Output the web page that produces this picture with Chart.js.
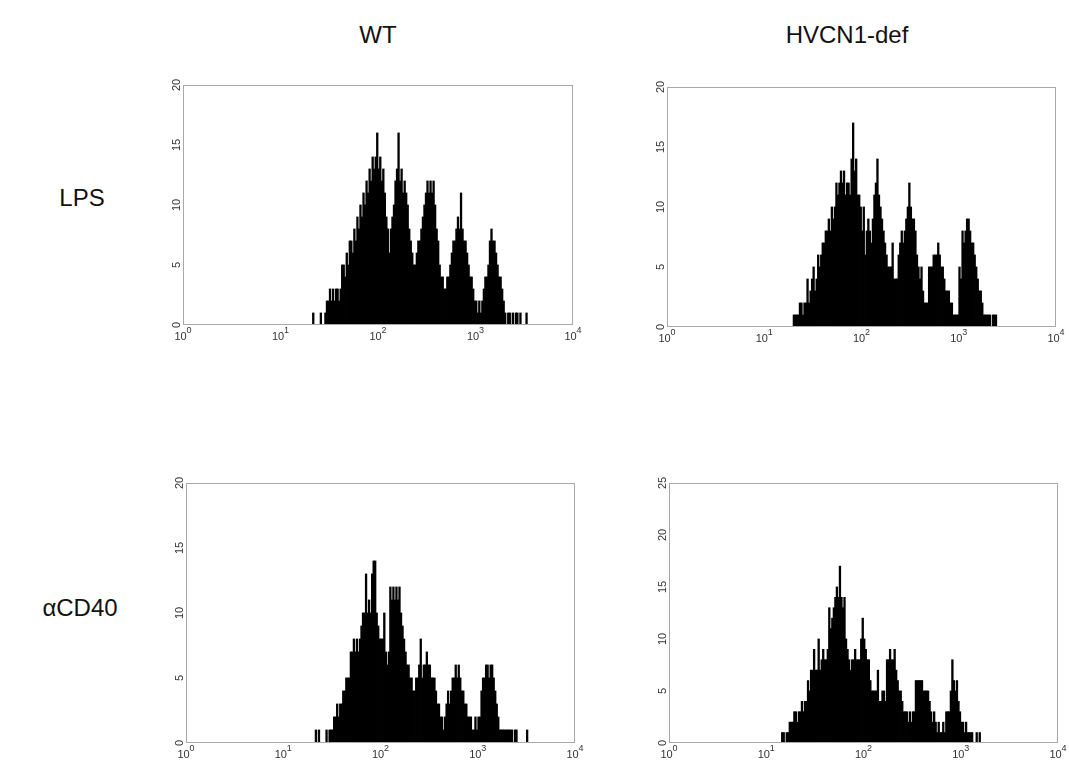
<!DOCTYPE html>
<html>
<head>
<meta charset="utf-8">
<script src="https://cdn.jsdelivr.net/npm/chart.js@4.4.1/dist/chart.umd.min.js"></script>
<style>
    body { margin: 0; background: #fff; font-family: "Liberation Sans", Arial, sans-serif; }
    .label { position: absolute; font-size: 24px; line-height: 24px; color: #111; transform: translateX(-50%); white-space: nowrap; }
    .panel { position: absolute; }
</style>
</head>
<body>
<div class="label" style="left:378px; top:23px;">WT</div>
<div class="label" style="left:847px; top:23px;">HVCN1-def</div>
<div class="label" style="left:82px; top:186px;">LPS</div>
<div class="label" style="left:80px; top:596px;">αCD40</div>

<div class="panel" id="p1"><canvas id="wtLps"></canvas></div>
<div class="panel" id="p2"><canvas id="hvLps"></canvas></div>
<div class="panel" id="p3"><canvas id="wtCd40"></canvas></div>
<div class="panel" id="p4"><canvas id="hvCd40"></canvas></div>

<script>
// Histogram counts per channel (256 channels over 4 log decades, 64 per decade)
const wtLpsStart = 85;
const wtLpsCounts = [
    1, 0, 0, 0, 0, 1, 0, 0, 1,
    2, 2, 3, 2, 3, 2, 3, 3, 2, 3,
    5, 5, 4, 6, 5, 7, 7, 6, 8, 7,
    9, 8, 10, 9, 11, 10, 12, 11, 13, 12,
    14, 13, 14, 16, 13, 14, 12, 13, 11, 9,
    8, 6, 8, 9, 10, 12, 13, 16, 12, 13,
    11, 12, 11, 10, 8, 7, 6, 5, 5, 6,
    7, 7, 8, 9, 10, 11, 12, 11, 12, 11,
    12, 10, 8, 7, 5, 4, 4, 3, 3, 4,
    4, 5, 6, 7, 7, 8, 9, 8, 11, 8,
    7, 7, 6, 5, 4, 4, 3, 2, 2, 1,
    2, 1, 2, 3, 4, 4, 5, 7, 8, 7,
    7, 6, 5, 4, 4, 3, 2, 1, 0, 1,
    1, 0, 1, 0, 1, 1, 0, 1, 0, 0,
    0, 1
];

const hvLpsStart = 83;
const hvLpsCounts = [
    1, 1, 1, 1, 2, 2, 1, 2, 2, 4,
    2, 3, 4, 5, 3, 4, 6, 5, 6, 7,
    7, 8, 8, 9, 8, 10, 9, 10, 12, 11,
    12, 13, 12, 13, 11, 12, 12, 11, 14, 17,
    13, 14, 11, 11, 10, 8, 10, 6, 8, 9,
    8, 7, 9, 11, 12, 14, 11, 10, 9, 8,
    7, 6, 5, 5, 5, 7, 4, 4, 4, 6,
    7, 8, 7, 8, 9, 10, 12, 10, 9, 9,
    8, 6, 5, 4, 5, 3, 2, 2, 2, 5,
    5, 5, 6, 6, 6, 7, 6, 5, 5, 4,
    3, 3, 3, 2, 2, 1, 1, 1, 1, 5,
    4, 8, 7, 8, 9, 9, 8, 7, 7, 6,
    5, 4, 3, 3, 2, 1, 1, 1, 1, 1,
    0, 1, 1, 1
];

const wtCd40Start = 85;
const wtCd40Counts = [
    1, 0, 1, 0, 0, 0, 0, 1, 0, 1,
    1, 1, 2, 2, 3, 2, 3, 3, 4, 4,
    5, 5, 5, 7, 7, 8, 7, 8, 7, 8,
    9, 10, 10, 13, 10, 11, 10, 13, 14, 14,
    10, 9, 8, 8, 8, 10, 7, 6, 7, 12,
    11, 12, 11, 12, 11, 12, 10, 9, 8, 7,
    6, 6, 5, 5, 4, 4, 5, 5, 6, 8,
    5, 6, 6, 7, 6, 6, 5, 5, 5, 4,
    3, 3, 2, 2, 1, 2, 3, 4, 3, 4,
    5, 5, 6, 5, 6, 5, 4, 4, 3, 3,
    2, 2, 2, 1, 1, 2, 1, 2, 2, 4,
    5, 5, 6, 6, 5, 6, 6, 5, 4, 3,
    2, 1, 1, 1, 1, 1, 1, 1, 1, 1,
    0, 1, 1, 0, 0, 0, 0, 0, 0, 1
];

const hvCd40Start = 74;
const hvCd40Counts = [
    1, 1, 0, 1, 1, 2, 2, 2, 3, 3,
    2, 3, 3, 4, 3, 4, 4, 6, 5, 7,
    7, 9, 7, 7, 10, 7, 8, 9, 8, 8,
    9, 13, 11, 12, 13, 14, 15, 14, 17, 14,
    13, 14, 10, 9, 8, 7, 8, 8, 9, 8,
    8, 8, 10, 12, 10, 9, 8, 8, 6, 5,
    5, 5, 5, 7, 4, 4, 5, 5, 4, 8,
    8, 9, 8, 8, 9, 7, 6, 5, 5, 4,
    3, 3, 3, 2, 3, 2, 3, 3, 6, 6,
    6, 6, 6, 5, 5, 5, 5, 4, 3, 2,
    3, 2, 1, 2, 1, 1, 2, 1, 3, 3,
    3, 5, 8, 6, 5, 6, 4, 3, 2, 2,
    1, 2, 1, 1, 1, 1, 0, 0, 1, 0, 1
];

// Axis ticks
const decadeExponents = ['0', '1', '2', '3', '4'];
const channelsPerDecade = 64;
const yTicks20 = [0, 5, 10, 15, 20];
const yTicks25 = [0, 5, 10, 15, 20, 25];

// Panel placement on the page (plot area box)
const panels = [
    { id: 'p1', canvas: 'wtLps', start: wtLpsStart, counts: wtLpsCounts, yTicks: yTicks20, left: 183, top: 85, width: 390, height: 240 },
    { id: 'p2', canvas: 'hvLps', start: hvLpsStart, counts: hvLpsCounts, yTicks: yTicks20, left: 667, top: 87, width: 389, height: 240 },
    { id: 'p3', canvas: 'wtCd40', start: wtCd40Start, counts: wtCd40Counts, yTicks: yTicks20, left: 186, top: 483, width: 389, height: 260 },
    { id: 'p4', canvas: 'hvCd40', start: hvCd40Start, counts: hvCd40Counts, yTicks: yTicks25, left: 669, top: 483, width: 389, height: 260 }
];

const PAD = { left: 40, top: 14, right: 20, bottom: 22 };

// one bar per channel, centred in its channel
function toPoints(start, counts) {
    return counts.map((c, i) => ({ x: start + i + 0.5, y: c }));
}

// Draws the frame, rotated y labels and 10^n x labels
const flowAxes = {
    id: 'flowAxes',
    afterDraw(chart, args, opts) {
        const ctx = chart.ctx;
        const a = chart.chartArea;
        const xs = chart.scales.x;
        const ys = chart.scales.y;
        ctx.save();
        ctx.strokeStyle = '#a9a9a9';
        ctx.lineWidth = 1;
        ctx.strokeRect(a.left + 0.5, a.top + 0.5, a.right - a.left - 1, a.bottom - a.top - 1);

        ctx.fillStyle = '#333';
        ctx.font = '11px "Liberation Sans", Arial, sans-serif';
        ctx.textAlign = 'center';
        ctx.textBaseline = 'alphabetic';
        opts.yTicks.forEach(v => {
            const y = ys.getPixelForValue(v);
            ctx.save();
            ctx.translate(a.left - 3, y);
            ctx.rotate(-Math.PI / 2);
            ctx.fillText(String(v), 0, 0);
            ctx.restore();
        });

        decadeExponents.forEach((e, i) => {
            const x = xs.getPixelForValue(i * channelsPerDecade);
            ctx.font = '11px "Liberation Sans", Arial, sans-serif';
            const w1 = ctx.measureText('10').width;
            ctx.font = '9px "Liberation Sans", Arial, sans-serif';
            const w2 = ctx.measureText(e).width;
            const x0 = x - (w1 + w2) / 2;
            ctx.textAlign = 'left';
            ctx.font = '11px "Liberation Sans", Arial, sans-serif';
            ctx.fillText('10', x0, a.bottom + 15);
            ctx.font = '9px "Liberation Sans", Arial, sans-serif';
            ctx.fillText(e, x0 + w1, a.bottom + 8);
        });
        ctx.restore();
    }
};

window.addEventListener('load', function() {
    panels.forEach(p => {
        const box = document.getElementById(p.id);
        box.style.left = (p.left - PAD.left) + 'px';
        box.style.top = (p.top - PAD.top) + 'px';
        box.style.width = (p.width + PAD.left + PAD.right) + 'px';
        box.style.height = (p.height + PAD.top + PAD.bottom) + 'px';

        new Chart(document.getElementById(p.canvas), {
            type: 'bar',
            data: {
                datasets: [{
                    data: toPoints(p.start, p.counts),
                    backgroundColor: '#000',
                    borderWidth: 0,
                    barPercentage: 1,
                    categoryPercentage: 1,
                    inflateAmount: 0.4
                }]
            },
            options: {
                responsive: true,
                maintainAspectRatio: false,
                animation: false,
                layout: { padding: PAD },
                plugins: {
                    legend: { display: false },
                    tooltip: { enabled: false },
                    flowAxes: { yTicks: p.yTicks }
                },
                scales: {
                    x: { type: 'linear', min: 0, max: 256, display: false, offset: false },
                    y: { min: 0, max: p.yTicks[p.yTicks.length - 1], display: false }
                }
            },
            plugins: [flowAxes]
        });
    });
});
</script>
</body>
</html>
